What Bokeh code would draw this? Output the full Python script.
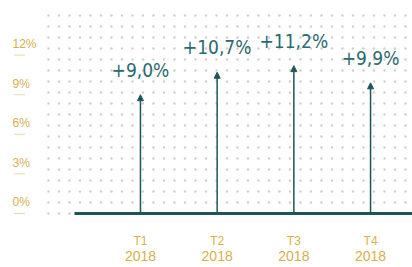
import numpy as np
from bokeh.plotting import figure
from bokeh.models import Range1d, Arrow, NormalHead, ColumnDataSource
from bokeh.core.properties import value
from bokeh.embed import file_html
from bokeh.resources import INLINE

# ---- data ----
quarters = ["T1", "T2", "T3", "T4"]
years = ["2018", "2018", "2018", "2018"]
growth = [9.0, 10.7, 11.2, 9.9]
y_ticks = [0, 3, 6, 9, 12]
y_tick_labels = ["0%", "3%", "6%", "9%", "12%"]

# ---- style ----
GOLD = "#d6b04c"
TEAL = "#2b6a70"
DARK = "#1d5558"

W, H = 412, 267
x_start, x_end = -0.825, 4.547
y_start, y_end = -4.091, 16.136

p = figure(width=W, height=H, output_backend="svg", toolbar_location=None,
           x_range=Range1d(x_start, x_end), y_range=Range1d(y_start, y_end),
           min_border=0, min_border_left=0, min_border_right=0,
           min_border_top=0, min_border_bottom=0)
p.axis.visible = False
p.grid.visible = False
p.outline_line_color = None
p.background_fill_color = "white"
p.border_fill_color = "white"

xs = list(range(1, len(quarters) + 1))

# dotted background pattern
px_x = (x_end - x_start) / W
px_y = (y_end - y_start) / H
gx = np.arange(1 - 92 * px_x, x_end, 10.5 * px_x)
gy = np.arange(0, 15.2, 11 * px_y)
GX, GY = np.meshgrid(gx, gy)
p.scatter(GX.ravel(), GY.ravel(), size=2.5, marker="circle",
          fill_color="#d3cfcc", line_color=None)

# baseline
p.segment(x0=[1 - 66 * px_x], y0=[0], x1=[x_end], y1=[0],
          line_color=DARK, line_width=3)

# y tick labels with small underline
p.text(x=[x_start] * len(y_ticks), y=y_ticks, text=y_tick_labels,
       x_offset=12, y_offset=-4, text_align="left", text_baseline="bottom",
       text_font=value("Liberation Sans"), text_font_size="12px",
       text_color=GOLD)
p.scatter(x=[x_start + 19 * px_x] * len(y_ticks), y=y_ticks, marker="dash",
          size=11, line_color="#e8d8a8", line_width=1)

# arrows
src = ColumnDataSource(dict(x=xs, y0=[0] * len(xs), y1=growth))
p.add_layout(Arrow(end=NormalHead(size=6, fill_color=DARK, line_color=DARK),
                   x_start="x", y_start="y0", x_end="x", y_end="y1",
                   source=src, line_color=DARK, line_width=1.5))

# value labels
val_labels = ["+" + f"{v:.1f}".replace(".", ",") + "%" for v in growth]
p.text(x=xs, y=growth, text=val_labels, y_offset=-14,
       text_align="center", text_baseline="bottom",
       text_font=value("DejaVu Sans Condensed"), text_font_size="19px",
       text_color=TEAL)

# category labels
p.text(x=xs, y=[0] * len(xs), text=quarters, y_offset=28,
       text_align="center", text_baseline="middle",
       text_font=value("Liberation Sans"), text_font_size="12px",
       text_color=GOLD)
p.text(x=xs, y=[0] * len(xs), text=years, y_offset=43,
       text_align="center", text_baseline="middle",
       text_font=value("Liberation Sans"), text_font_size="14px",
       text_color=GOLD)

open("out.html", "w").write(file_html(p, INLINE))
